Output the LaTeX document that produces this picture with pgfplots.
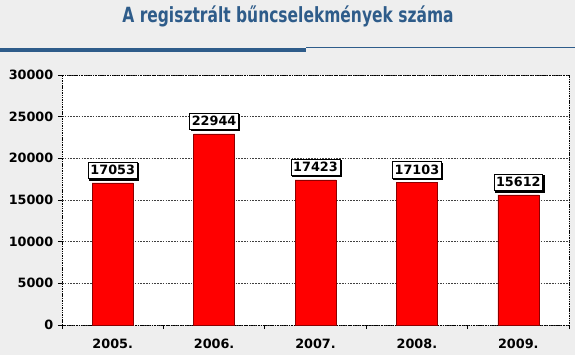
\documentclass[border=0pt]{standalone}
\usepackage{pgfplots}
\pgfplotsset{compat=1.18}
\usepackage{fontspec}
\setmainfont{DejaVu Sans}
\usetikzlibrary{shadows}
\definecolor{titleblue}{RGB}{46,92,138}
\definecolor{bggray}{RGB}{238,238,238}
\begin{document}
\begin{tikzpicture}
\fill[bggray] (-46.5pt,-22.5pt) rectangle (384.75pt,243.75pt);
\begin{axis}[at={(0,0)}, anchor=south west, scale only axis,
  width=380.25pt, height=187.5pt,
  xmin=-0.5, xmax=4.5, ymin=0, ymax=30000,
  ytick={0,5000,...,30000},
  xtick={-0.5,0.5,...,4.5},
  xticklabels={2005.,2006.,2007.,2008.,2009.},
  x tick label as interval,
  xtick pos=lower, ytick pos=left,
  tick align=outside, major tick length=3pt,
  tick style={black, line width=0.5pt},
  scaled y ticks=false,
  /pgf/number format/1000 sep={},
  /pgf/number format/assume math mode=true,
  tick label style={font=\bfseries\fontsize{9.6}{11}\selectfont},
  xticklabel style={yshift=-4pt},
  ymajorgrids,
  major grid style={black!75, line width=0.5pt, dash pattern=on 1.2pt off 0.9pt},
  axis line style={black, line width=0.6pt, dash pattern=on 0.8pt off 0.5pt},
  axis background/.style={fill=white},
  ybar, bar width=30.75pt,
  nodes near coords={\pgfmathprintnumber[1000 sep={}]{\pgfplotspointmeta}},
  nodes near coords style={font=\bfseries\fontsize{9.6}{11}\selectfont, fill=white, draw=black,
    line width=0.4pt, inner xsep=1.6pt, inner ysep=2.6pt, anchor=south, yshift=3pt,
    drop shadow={shadow xshift=0.9pt, shadow yshift=-0.9pt, opacity=1, fill=black}},
]
\addplot[fill=red, draw=red!55!black, line width=0.4pt] coordinates {
  (0,17053) (1,22944) (2,17423) (3,17103) (4,15612)};
\end{axis}
\node[text=titleblue] at (169.5pt,231.3pt) {\scalebox{0.83}[1.12]{\bfseries\fontsize{14}{16}\selectfont A regisztrált bűncselekmények száma}};
\fill[titleblue] (-46.5pt,205.1pt) rectangle (183pt,208.1pt);
\draw[titleblue, line width=0.8pt] (183pt,208.1pt) -- (384.75pt,208.1pt);
\pgfresetboundingbox
\path (-46.5pt,-22.5pt) rectangle (384.75pt,243.75pt);
\end{tikzpicture}
\end{document}
